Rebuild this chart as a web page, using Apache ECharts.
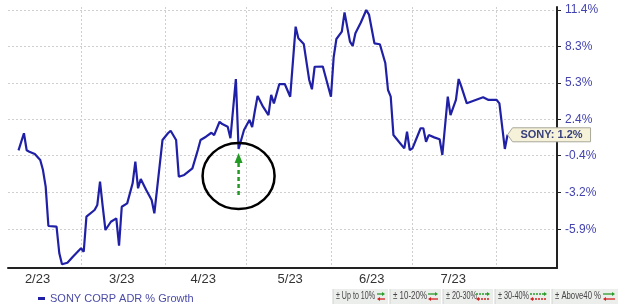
<!DOCTYPE html>
<html><head><meta charset="utf-8">
<script src="https://cdn.jsdelivr.net/npm/echarts@6/dist/echarts.min.js"></script>
<style>html,body{margin:0;padding:0;background:#fff}#c{width:620px;height:306px}</style>
</head><body><div id="c"></div>
<script>
// ---- data ----
const seriesName = 'SONY CORP ADR % Growth';
const ticker = 'SONY';
const dates = [
'2023-02-06','2023-02-08','2023-02-09','2023-02-10','2023-02-12','2023-02-14','2023-02-15','2023-02-16','2023-02-17','2023-02-20',
'2023-02-21','2023-02-22','2023-02-24','2023-02-26','2023-03-01','2023-03-02','2023-03-03','2023-03-06','2023-03-07','2023-03-08',
'2023-03-09','2023-03-10','2023-03-12','2023-03-14','2023-03-15','2023-03-16','2023-03-18','2023-03-20','2023-03-21','2023-03-22',
'2023-03-23','2023-03-25','2023-03-27','2023-03-28','2023-03-31','2023-04-02','2023-04-03','2023-04-05','2023-04-06','2023-04-08',
'2023-04-11','2023-04-13','2023-04-14','2023-04-16','2023-04-18','2023-04-19','2023-04-21','2023-04-22','2023-04-24','2023-04-25',
'2023-04-27','2023-04-28','2023-04-30','2023-05-02','2023-05-03','2023-05-04','2023-05-05','2023-05-07','2023-05-09','2023-05-10',
'2023-05-11','2023-05-13','2023-05-15','2023-05-17','2023-05-19','2023-05-20','2023-05-22','2023-05-24','2023-05-25','2023-05-26',
'2023-05-29','2023-06-01','2023-06-02','2023-06-03','2023-06-05','2023-06-06','2023-06-08','2023-06-09','2023-06-10','2023-06-12',
'2023-06-14','2023-06-15','2023-06-17','2023-06-19','2023-06-21','2023-06-22','2023-06-23','2023-06-24','2023-06-26','2023-06-28',
'2023-06-29','2023-06-30','2023-07-01','2023-07-04','2023-07-05','2023-07-06','2023-07-07','2023-07-09','2023-07-11','2023-07-12',
'2023-07-14','2023-07-15','2023-07-17','2023-07-18','2023-07-19','2023-07-21','2023-07-25','2023-07-27','2023-07-29','2023-08-01',
'2023-08-02','2023-08-04','2023-08-05'
];
const growth = [
0.0, 1.32, 0.0, -0.11, -0.28, -0.74, -1.51, -2.76, -5.66, -5.71,
-7.60, -8.40, -8.29, -7.86, -7.26, -7.51, -4.98, -4.49, -4.12, -2.39,
-4.25, -5.95, -5.35, -5.10, -7.08, -4.25, -4.00, -2.51, -0.87, -2.88,
-2.18, -3.01, -3.75, -4.73, 0.80, 1.32, 1.52, 0.80, -2.01, -1.88,
-1.38, 0.02, 0.80, 1.05, 1.36, 1.18, 2.22, 2.04, 1.83, 0.93,
5.64, 0.10, 1.57, 2.36, 1.81, 3.09, 4.27, 3.41, 2.75, 4.35,
3.68, 5.23, 5.23, 4.21, 9.98, 9.00, 8.52, 5.56, 4.81, 6.64,
6.66, 4.21, 7.44, 8.94, 9.56, 11.20, 8.72, 8.36, 9.42, 10.33,
11.40, 11.01, 8.58, 8.50, 6.95, 4.75, 4.21, 1.18, 0.66, 0.15,
1.44, 0.02, 0.15, 1.71, 1.71, 0.66, 1.18, 1.00, 0.85, -0.36,
4.21, 2.75, 3.95, 5.64, 5.02, 3.68, 4.00, 4.16, 3.95, 3.95,
3.68, 0.10, 1.20
];
const yTicks = [11.4, 8.3, 5.3, 2.4, -0.4, -3.2, -5.9];
const monthStarts = ['2023-03-01','2023-04-01','2023-05-01','2023-06-01','2023-07-01','2023-08-01'];
const xLabelDates = ['2023-02-13','2023-03-16','2023-04-15','2023-05-17','2023-06-16','2023-07-16'];
const xLabels = ['2/23','3/23','4/23','5/23','6/23','7/23'];
const rangeLegend = ['\u00b1 Up to 10%','\u00b1 10-20%','\u00b1 20-30%','\u00b1 30-40%','\u00b1 Above40 %'];
const highlightDate = '2023-04-28';

// ---- helpers ----
const base = Date.UTC(2023, 2, 1);
function dayOf(s){const p=s.split('-').map(Number);return (Date.UTC(p[0],p[1]-1,p[2])-base)/864e5;}
function toLog(p){return Math.log(1+p/100);}
const xLabelDays = xLabelDates.map(dayOf);

const chart = echarts.init(document.getElementById('c'));
const option = {
  animation:false,
  backgroundColor:'#ffffff',
  grid:{left:8,right:63,top:7,bottom:38,containLabel:false},
  legend:{
    left:33, top:288, icon:'rect', itemWidth:7, itemHeight:3, itemGap:10,
    textStyle:{color:'#4b4ba8',fontSize:11,fontFamily:'Liberation Sans, Arial, sans-serif'},
    data:[seriesName]
  },
  xAxis:{
    type:'value', min:-26.87, max:175.2,
    axisLine:{show:true,onZero:false,lineStyle:{color:'#222',width:2}},
    axisTick:{show:false,customValues:monthStarts.map(dayOf)},
    splitLine:{show:true,lineStyle:{color:'#cfcfcf',type:[2,2],width:1}},
    axisLabel:{customValues:xLabelDays,margin:5,color:'#333',fontSize:13,fontFamily:'Liberation Sans, Arial, sans-serif',
      formatter:function(v){let bi=0,bd=1e9;xLabelDays.forEach((d,i)=>{if(Math.abs(d-v)<bd){bd=Math.abs(d-v);bi=i;}});return xLabels[bi];}}
  },
  yAxis:{
    type:'value', position:'right', min:-0.09058, max:0.11027, scale:true,
    axisLine:{show:true,onZero:false,lineStyle:{color:'#222',width:2}},
    axisTick:{show:true,length:4,customValues:yTicks.map(toLog),lineStyle:{color:'#222',width:1}},
    splitLine:{show:true,lineStyle:{color:'#cfcfcf',type:[2,2],width:1}},
    axisLabel:{customValues:yTicks.map(toLog),margin:8,color:'#4343b0',fontSize:12,fontFamily:'Liberation Sans, Arial, sans-serif',
      formatter:function(v){return ((Math.exp(v)-1)*100).toFixed(1)+'%';}}
  },
  series:[{
    name:seriesName, type:'line', showSymbol:false, symbol:'none',
    lineStyle:{color:'#2020a6',width:2.2},
    itemStyle:{color:'#2020a6'},
    data:dates.map((d,i)=>[dayOf(d),toLog(growth[i])])
  }]
};
chart.setOption(option);

// ---- annotations ----
const hi = dates.indexOf(highlightDate);
const hp = chart.convertToPixel({gridIndex:0},[dayOf(dates[hi]),toLog(growth[hi])]);
const li = dates.length-1;
const lp = chart.convertToPixel({gridIndex:0},[dayOf(dates[li]),toLog(growth[li])]);
const hx=hp[0], hy=hp[1], lx=lp[0], ly=lp[1];
const graphics = [];
graphics.push({type:'ellipse',shape:{cx:hx,cy:hy+27,rx:36,ry:33},style:{fill:null,stroke:'#000',lineWidth:2.5},z:10});
graphics.push({type:'line',shape:{x1:hx,y1:hy+46,x2:hx,y2:hy+13},style:{stroke:'#239a23',lineWidth:2.5,lineDash:[4,3]},z:10});
graphics.push({type:'polygon',shape:{points:[[hx,hy+4],[hx-4,hy+14],[hx+4,hy+14]]},style:{fill:'#239a23'},z:10});
// end label
graphics.push({type:'polygon',shape:{points:[[lx,ly],[lx+5,ly-7],[lx+83,ly-7],[lx+83,ly+7],[lx+5,ly+7]]},
  style:{fill:'#f6f2da',stroke:'#a8a89a',lineWidth:1},z:10});
graphics.push({type:'text',x:lx+44,y:ly,style:{text:ticker+': '+growth[li].toFixed(1)+'%',fill:'#38407a',
  font:'bold 11px Liberation Sans, Arial, sans-serif',align:'center',verticalAlign:'middle'},z:11});
// range legend boxes
const boxes=[{x:333,w:55,aw:8,dash:false,tw:39},{x:390,w:51,aw:10,dash:false,tw:34},{x:443,w:50,aw:14,dash:true,tw:31},{x:495,w:55,aw:17,dash:true,tw:31},{x:552,w:66,aw:12,dash:false,tw:46}];
boxes.forEach((b,i)=>{
  graphics.push({type:'rect',shape:{x:b.x,y:289,width:b.w,height:15},style:{fill:'#eceeec'},z:5});
  graphics.push({type:'line',shape:{x1:b.x,y1:289,x2:b.x,y2:304},style:{stroke:'#d0d2d0',lineWidth:1},z:6});
  const t = {type:'text',x:b.x+3,y:296.5,style:{text:rangeLegend[i],fill:'#444',font:'10px Liberation Sans, Arial, sans-serif',verticalAlign:'middle'},z:6};
  const natural = echarts.format.getTextRect ? echarts.format.getTextRect(rangeLegend[i],'10px Liberation Sans').width : 0;
  t.scaleX = natural>0 ? Math.min(1,b.tw/natural) : 0.75;
  graphics.push(t);
  const r=b.x+b.w-3, l=r-b.aw;
  graphics.push({type:'line',shape:{x1:l,y1:294,x2:r-2,y2:294},style:{stroke:'#2a9a2a',lineWidth:1.3,lineDash:b.dash?[2,1]:null},z:6});
  graphics.push({type:'polygon',shape:{points:[[r,294],[r-3,292],[r-3,296]]},style:{fill:'#2a9a2a'},z:6});
  graphics.push({type:'line',shape:{x1:l+2,y1:299,x2:r,y2:299},style:{stroke:'#d42020',lineWidth:1.3,lineDash:b.dash?[2,1]:null},z:6});
  graphics.push({type:'polygon',shape:{points:[[l,299],[l+3,297],[l+3,301]]},style:{fill:'#d42020'},z:6});
});
chart.setOption({graphic:graphics});
</script>
</body></html>
